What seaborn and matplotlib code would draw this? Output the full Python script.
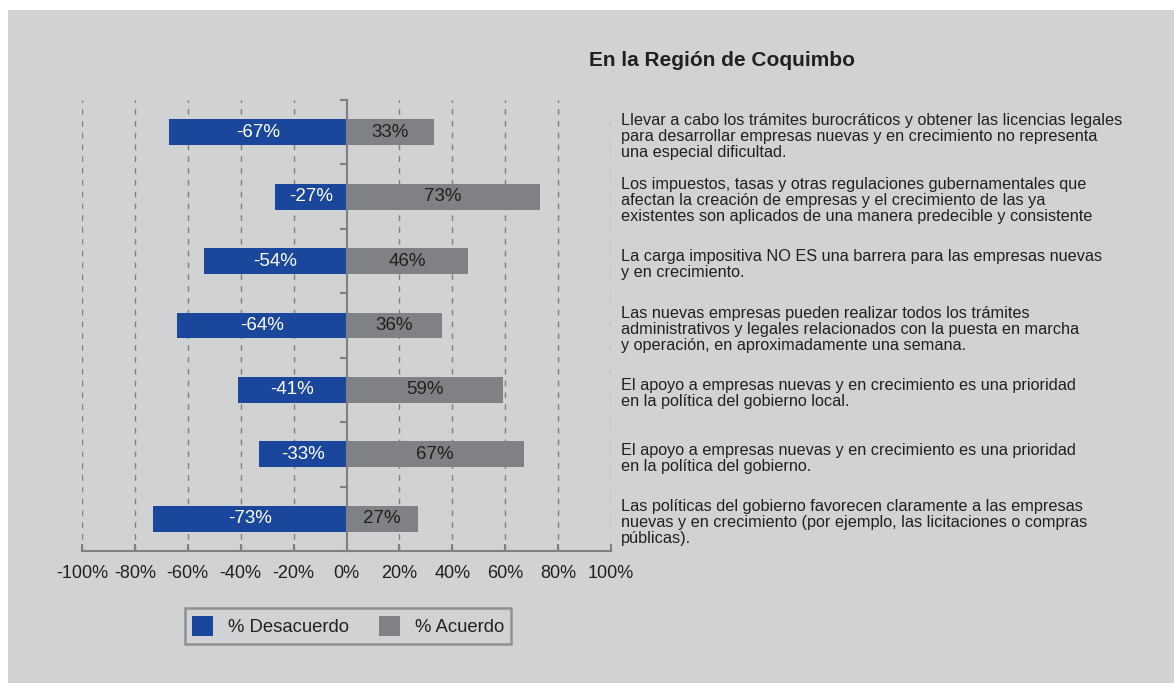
import matplotlib
matplotlib.use("Agg")
import matplotlib.pyplot as plt
import seaborn as sns
import pandas as pd
from matplotlib.patches import Rectangle, Patch

categories = [
    "Llevar a cabo los trámites burocráticos y obtener las licencias legales\npara desarrollar empresas nuevas y en crecimiento no representa\nuna especial dificultad.",
    "Los impuestos, tasas y otras regulaciones gubernamentales que\nafectan la creación de empresas y el crecimiento de las ya\nexistentes son aplicados de una manera predecible y consistente",
    "La carga impositiva NO ES una barrera para las empresas nuevas\ny en crecimiento.",
    "Las nuevas empresas pueden realizar todos los trámites\nadministrativos y legales relacionados con la puesta en marcha\ny operación, en aproximadamente una semana.",
    "El apoyo a empresas nuevas y en crecimiento es una prioridad\nen la política del gobierno local.",
    "El apoyo a empresas nuevas y en crecimiento es una prioridad\nen la política del gobierno.",
    "Las políticas del gobierno favorecen claramente a las empresas\nnuevas y en crecimiento (por ejemplo, las licitaciones o compras\npúblicas).",
]
desacuerdo = [-67, -27, -54, -64, -41, -33, -73]
acuerdo = [33, 73, 46, 36, 59, 67, 27]
series_names = ["% Desacuerdo", "% Acuerdo"]
xticks = [-100, -80, -60, -40, -20, 0, 20, 40, 60, 80, 100]
title = "En la Región de Coquimbo"

BLUE = "#1a479c"
GREY = "#808184"
BG = "#d1d2d4"
AX = "#808080"
TXT = "#231f20"

sns.set_theme(style="white")
plt.rcParams["font.family"] = ["Liberation Sans", "DejaVu Sans"]

ids = list(range(len(categories)))
df = pd.DataFrame({
    "cat": ids * 2,
    "val": desacuerdo + acuerdo,
    "serie": [series_names[0]] * len(ids) + [series_names[1]] * len(ids),
})

fig = plt.figure(figsize=(11.74, 6.83), dpi=100)
fig.patch.set_facecolor("white")
fig.patches.append(Rectangle((8 / 1174, 0), 1 - 8 / 1174, 1 - 10 / 683,
                             transform=fig.transFigure, facecolor=BG,
                             edgecolor="none", zorder=-10))
ax = fig.add_axes([82 / 1174, 1 - 551 / 683, (611 - 82) / 1174, (551 - 100) / 683])
ax.set_facecolor("none")

sns.barplot(data=df, y="cat", x="val", hue="serie", orient="h", dodge=False,
            palette=[BLUE, GREY], width=0.4, ax=ax, legend=False,
            order=ids, saturation=1, linewidth=0)

ax.set_xlim(-100, 100)
ax.set_ylim(6.5, -0.5)

for x in xticks:
    if x != 0:
        ax.axvline(x, color=AX, lw=1, ls=(0, (4, 4.5)), zorder=0)

for sp in ["top", "right"]:
    ax.spines[sp].set_visible(False)
ax.spines["left"].set_position(("data", 0))
ax.spines["left"].set_color(AX)
ax.spines["left"].set_linewidth(1.5)
ax.spines["bottom"].set_color(AX)
ax.spines["bottom"].set_linewidth(1.5)

ax.set_yticks([i - 0.5 for i in range(len(categories) + 1)])
ax.set_yticklabels([])
ax.tick_params(axis="y", direction="out", length=5, width=1.5, color=AX, left=True)
ax.set_xticks(xticks)
ax.set_xticklabels([f"{x}%" for x in xticks], fontsize=13, color=TXT)
ax.tick_params(axis="x", direction="in", length=5, width=1.5, color=AX, pad=10, bottom=True)
ax.set_xlabel("")
ax.set_ylabel("")

for i, (d, a) in enumerate(zip(desacuerdo, acuerdo)):
    ax.text(d / 2, i, f"{d}%", ha="center", va="center", color="white", fontsize=13.5)
    ax.text(a / 2, i, f"{a}%", ha="center", va="center", color=TXT, fontsize=13.5)
    ax.text(1.0 + 10 / 529, i + 0.06, categories[i], transform=ax.get_yaxis_transform(),
            ha="left", va="center", fontsize=11.7, color=TXT, linespacing=1.08)

fig.text(722 / 1174, 1 - 61 / 683, title, ha="center", va="center",
         fontsize=15, fontweight="bold", color=TXT)

handles = [Patch(facecolor=BLUE, edgecolor="none"), Patch(facecolor=GREY, edgecolor="none")]
leg = fig.legend(handles, series_names, loc="center", bbox_to_anchor=(348 / 1174, 1 - 626 / 683),
                 ncol=2, fontsize=13.3, frameon=True, fancybox=False, handlelength=1.15,
                 handleheight=1.3, columnspacing=1.6, borderpad=0.4, handletextpad=0.8)
leg.get_frame().set_edgecolor(AX)
leg.get_frame().set_linewidth(1.8)
leg.get_frame().set_facecolor(BG)
for t in leg.get_texts():
    t.set_color(TXT)

fig.savefig("out.png", dpi=100, facecolor=fig.get_facecolor())
